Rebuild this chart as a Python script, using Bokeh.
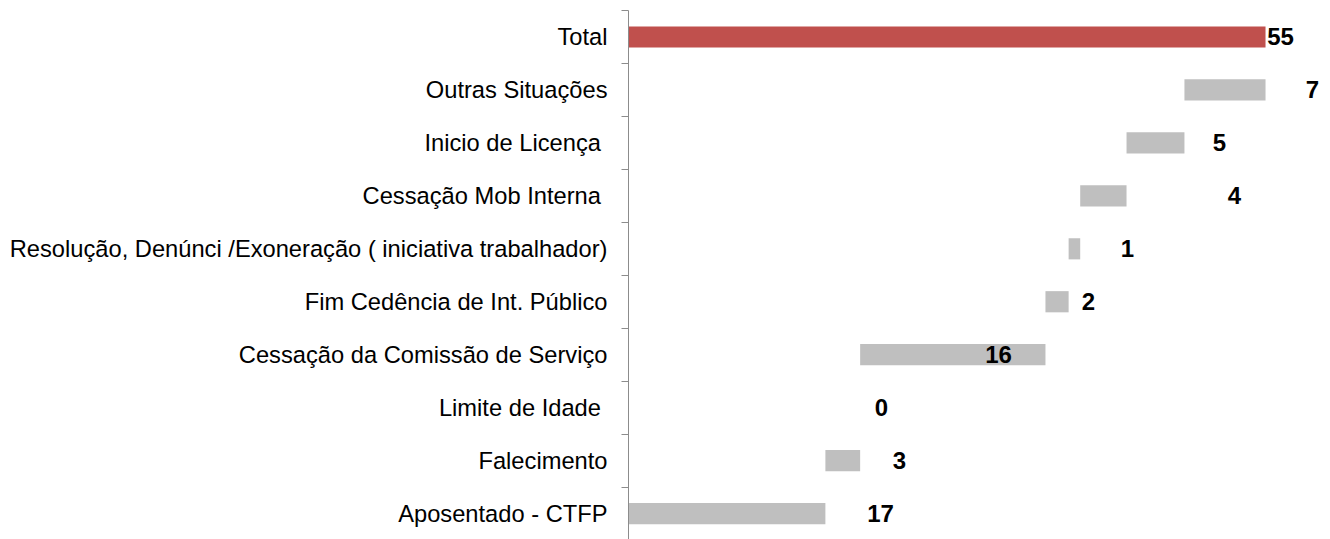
from bokeh.plotting import figure
from bokeh.models import ColumnDataSource, FixedTicker, Range1d
from bokeh.core.properties import value
from bokeh.embed import file_html
from bokeh.resources import INLINE

# Data (bottom to top)
categories = [
    "Aposentado - CTFP",
    "Falecimento",
    "Limite de Idade\u00a0",
    "Cessação da Comissão de Serviço",
    "Fim Cedência de Int. Público",
    "Resolução, Denúnci /Exoneração ( iniciativa trabalhador)",
    "Cessação Mob Interna\u00a0",
    "Inicio de Licença\u00a0",
    "Outras Situações",
    "Total",
]
values = [17, 3, 0, 16, 2, 1, 4, 5, 7, 55]
is_total = [False, False, False, False, False, False, False, False, False, True]
# where each value label sits along the value axis
label_x = [21.76, 23.40, 21.84, 31.95, 39.72, 43.08, 52.32, 51.03, 59.06, 56.3]

RED = "#C0504D"
GREY = "#BFBFBF"

# waterfall bases
lefts, rights, colors = [], [], []
running = 0
for v, t in zip(values, is_total):
    if t:
        lefts.append(0)
        rights.append(v)
        colors.append(RED)
    else:
        lefts.append(running)
        rights.append(running + v)
        running += v
        colors.append(GREY)

idx = list(range(len(categories)))
src = ColumnDataSource(dict(y=idx, left=lefts, right=rights, color=colors,
                            lx=label_x, lab=[str(v) for v in values]))

p = figure(width=1330, height=539, output_backend="svg", toolbar_location=None,
           x_range=Range1d(0, 60.61), y_range=Range1d(-0.49, 9.5),
           min_border_left=628, min_border_right=0, min_border_top=10,
           min_border_bottom=0)
p.outline_line_color = None
p.xgrid.visible = False
p.ygrid.visible = False
p.xaxis.visible = False

p.hbar(y="y", left="left", right="right", height=0.4, color="color",
       line_color=None, source=src)

p.text(x="lx", y="y", text="lab", source=src, text_align="center",
       text_baseline="middle", text_font=value("Liberation Sans"),
       text_font_size="24px", text_font_style="bold", text_color="#000000")

ax = p.yaxis[0]
ax.ticker = FixedTicker(ticks=idx, minor_ticks=[i + 0.5 for i in idx] + [-0.5])
ax.major_label_overrides = {i: c for i, c in enumerate(categories)}
ax.major_tick_out = 0
ax.major_tick_in = 0
ax.minor_tick_out = 7
ax.minor_tick_in = 0
ax.axis_line_color = "#8C8C8C"
ax.minor_tick_line_color = "#8C8C8C"
ax.major_label_standoff = 14
ax.major_label_text_font = "Liberation Sans"
ax.major_label_text_font_size = "23.7px"
ax.major_label_text_color = "#000000"

open("out.html", "w").write(file_html(p, INLINE))
